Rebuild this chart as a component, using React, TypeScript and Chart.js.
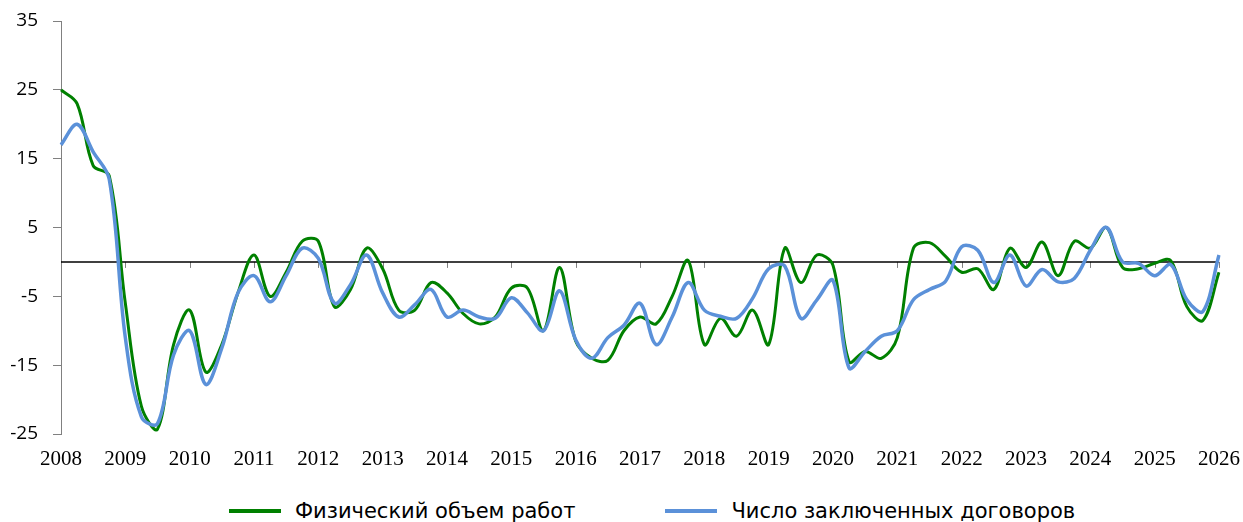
import React, { useEffect, useRef } from "react";
import { Chart, registerables } from "chart.js";

Chart.register(...registerables);

const years = [2008, 2009, 2010, 2011, 2012, 2013, 2014, 2015, 2016, 2017, 2018, 2019, 2020, 2021, 2022, 2023, 2024, 2025, 2026];
const categories: string[] = [];
years.forEach((y) => {
  for (let q = 1; q <= 4; q++) {
    if (y === 2026 && q > 1) break;
    categories.push(`${y}Q${q}`);
  }
});

const seriesNames = ["Физический объем работ", "Число заключенных договоров"];

const physicalVolume = [
  25, 23, 14, 12.5, -6, -21, -24.3, -12, -7, -16, -12, -4.5,
  1, -5, -1.5, 3, 3, -6.5, -4, 2, -1, -7, -7, -3,
  -4.5, -7.5, -9, -8, -3.8, -3.8, -10, -0.8, -11.5, -14, -14.3, -10,
  -8, -9, -5, 0.2, -12, -8.2, -10.8, -7, -12, 2, -3, 1,
  -0.5, -14.5, -13, -14, -11, 2, 2.8, 0.8, -1.5, -1, -4, 2,
  -0.8, 2.9, -2, 3, 2, 5, -0.8, -1, -0.2, 0.2, -6.5, -8.5,
  -1.5,
];

const contracts = [
  17, 20, 16, 12, -11, -22.5, -23.5, -13.5, -10, -17.8, -12.5, -4.5,
  -2, -5.8, -2, 2, 0.5, -6, -3.3, 1, -4.5, -8, -6.2, -4,
  -8, -7, -8, -8.2, -5.2, -7.4, -10, -4.2, -11.3, -14, -11, -9.2,
  -6, -12, -8, -3, -7, -7.9, -8.2, -5.3, -1, -0.6, -8.2, -5.5,
  -2.7, -15.4, -13, -10.8, -10, -5.5, -4, -2.8, 2.2, 1.7, -3, 1,
  -3.5, -1.1, -2.9, -2.4, 1.7, 5, 0, -0.2, -2, -0.4, -5.5, -7.2,
  1,
];

const yMin = -25;
const yMax = 35;
const yStep = 10;

const GREEN = "#008000";
const BLUE = "#5B91D9";

const zeroLinePlugin = {
  id: "zeroLine",
  beforeDatasetsDraw(chart: any) {
    const { ctx, chartArea, scales } = chart;
    const y0 = scales.y.getPixelForValue(0);
    ctx.save();
    ctx.strokeStyle = "#808080";
    ctx.lineWidth = 1;
    categories.forEach((c, i) => {
      if (c.endsWith("Q1")) {
        const x = Math.round(scales.x.getPixelForValue(i)) + 0.5;
        ctx.beginPath();
        ctx.moveTo(x, y0);
        ctx.lineTo(x, y0 + 6);
        ctx.stroke();
      }
    });
    ctx.strokeStyle = "#000000";
    ctx.lineWidth = 1.5;
    ctx.beginPath();
    ctx.moveTo(chartArea.left, y0);
    ctx.lineTo(chartArea.right, y0);
    ctx.stroke();
    ctx.restore();
  },
};

const zeroPad = (s: any) => {
  s.paddingTop = 0;
  s.paddingBottom = 0;
  s.paddingLeft = 0;
  s.paddingRight = 0;
};

export default function App() {
  const ref = useRef<HTMLCanvasElement | null>(null);
  useEffect(() => {
    if (!ref.current) return;
    const chart = new Chart(ref.current, {
      type: "line",
      data: {
        labels: categories,
        datasets: [
          {
            label: seriesNames[1],
            data: contracts,
            borderColor: BLUE,
            backgroundColor: BLUE,
            borderWidth: 3.5,
            pointRadius: 0,
            tension: 0.35,
            order: 0,
          },
          {
            label: seriesNames[0],
            data: physicalVolume,
            borderColor: GREEN,
            backgroundColor: GREEN,
            borderWidth: 3,
            pointRadius: 0,
            tension: 0.35,
            order: 1,
          },
        ],
      },
      options: {
        animation: false,
        responsive: true,
        maintainAspectRatio: false,
        layout: { padding: { left: 0, right: 24, top: 21, bottom: 6 } },
        plugins: { legend: { display: false }, tooltip: { enabled: false } },
        scales: {
          x: {
            type: "category",
            offset: false,
            grid: { display: false, drawTicks: false },
            border: { display: false },
            ticks: {
              autoSkip: false,
              maxRotation: 0,
              minRotation: 0,
              padding: 13,
              color: "#000000",
              font: { family: "'Liberation Serif', 'Times New Roman', serif", size: 21 },
              callback: (_v: any, i: number) => (categories[i].endsWith("Q1") ? categories[i].slice(0, 4) : ""),
            },
            afterFit: (s: any) => {
              s.height = 40;
              zeroPad(s);
            },
          },
          y: {
            min: yMin,
            max: yMax,
            grid: { drawOnChartArea: false, drawTicks: true, tickLength: 8, color: "#808080" },
            border: { display: true, color: "#808080", width: 1 },
            ticks: {
              stepSize: yStep,
              padding: 15,
              color: "#000000",
              font: { family: "'Open Sans', sans-serif", size: 19 },
            },
            afterFit: (s: any) => {
              s.width = 61;
              zeroPad(s);
            },
          },
        },
      },
      plugins: [zeroLinePlugin],
    });
    return () => chart.destroy();
  }, []);

  const legendText: React.CSSProperties = {
    fontFamily: "'DejaVu Sans', sans-serif",
    fontSize: 21,
    color: "#000",
    whiteSpace: "nowrap",
  };
  const line = (c: string): React.CSSProperties => ({
    width: 52,
    height: 4,
    background: c,
    marginRight: 14,
  });

  return (
    <div style={{ position: "absolute", left: 0, top: 0, width: 1243, height: 522, overflow: "hidden", background: "#fff" }}>
      <div style={{ position: "absolute", left: 0, top: 0, width: 1243, height: 480 }}>
        <canvas ref={ref} />
      </div>
      <div style={{ position: "absolute", left: 229, top: 497, display: "flex", alignItems: "center", height: 28 }}>
        <div style={line(GREEN)} />
        <span style={legendText}>{seriesNames[0]}</span>
        <div style={{ ...line(BLUE), marginLeft: 90 }} />
        <span style={legendText}>{seriesNames[1]}</span>
      </div>
    </div>
  );
}
